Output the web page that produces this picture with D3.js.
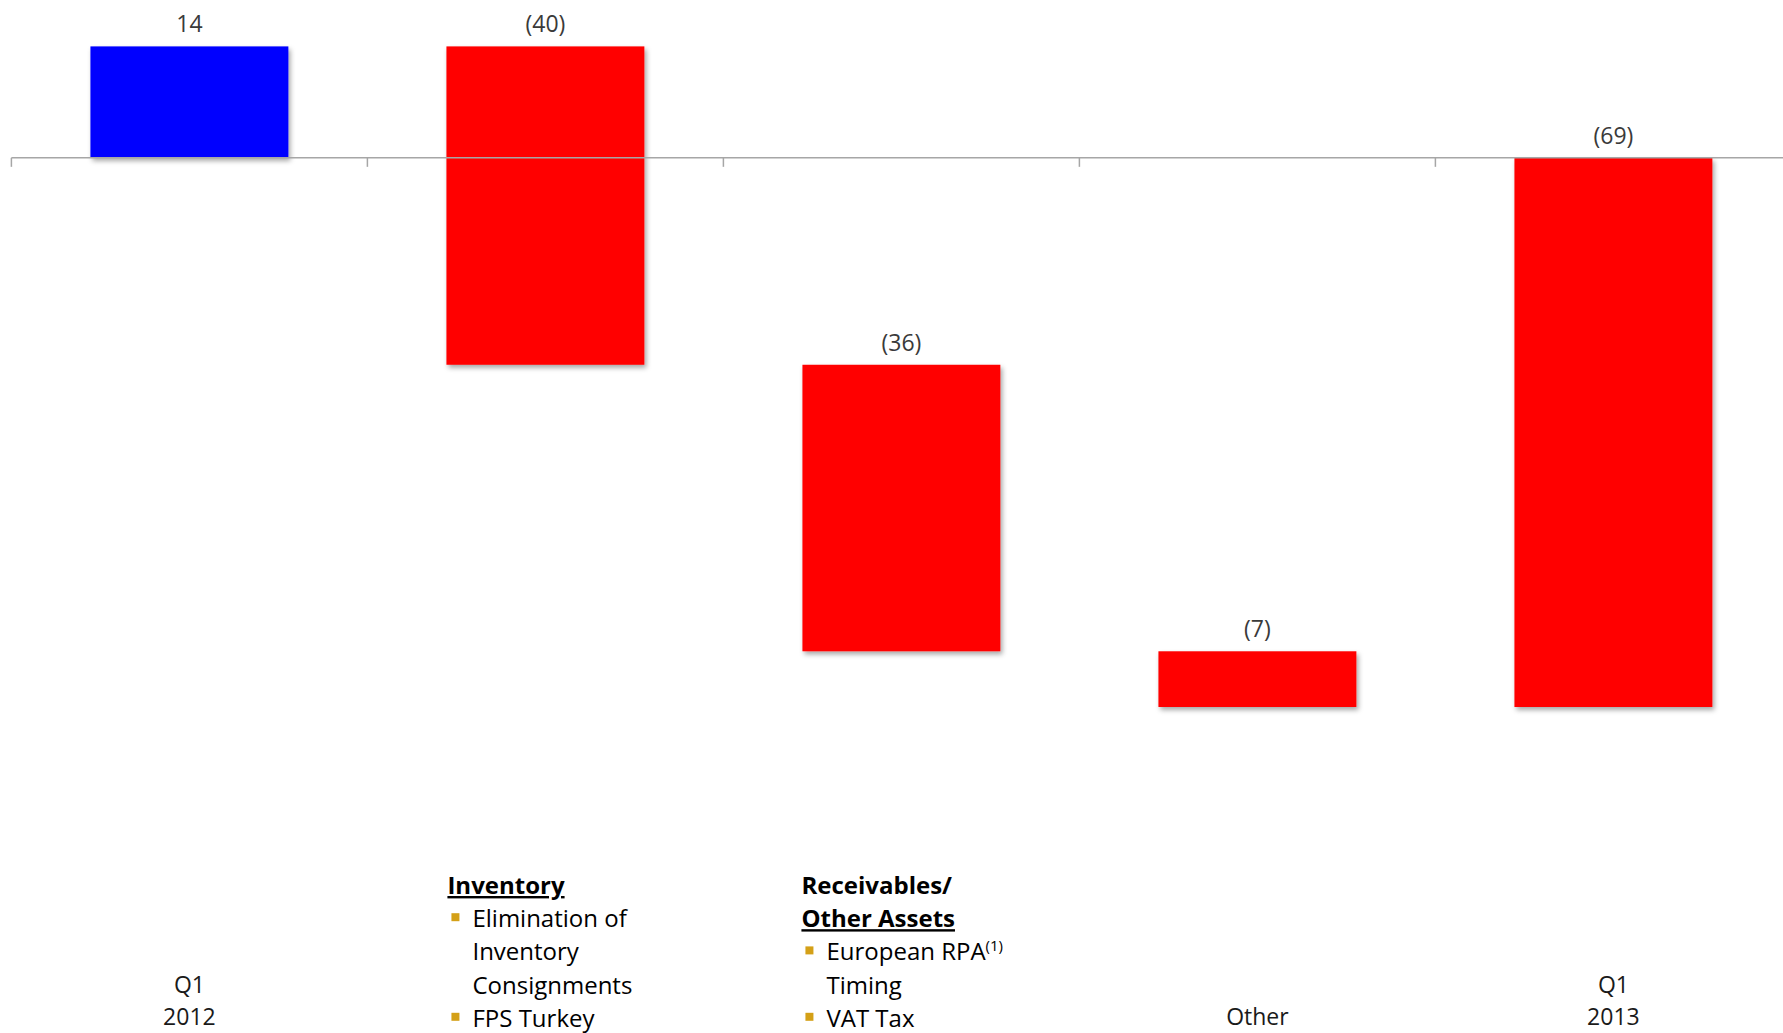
<!DOCTYPE html>
<html>
<head>
<meta charset="utf-8">
<script src="https://cdn.jsdelivr.net/npm/d3@7"></script>
<style>
  html, body { margin: 0; padding: 0; background: #fff; }
  svg { display: block; }
  text { font-family: "Open Sans", "Noto Sans", sans-serif; }
</style>
</head>
<body>
<svg id="chart" width="1783" height="1033"></svg>
<script>
// ---- data ----
const categories = ["Q1 2012", "Inventory", "Receivables", "Other", "Q1 2013"];
const changes    = [14, -40, -36, -7, -69];
const isTotal    = [true, false, false, false, true];
const valueLabels = ["14", "(40)", "(36)", "(7)", "(69)"];
const categoryLabels = [["Q1", "2012"], [], [], ["Other"], ["Q1", "2013"]];
const inventoryNotes = [
  {text: "Inventory", bold: true, underline: true, bullet: false},
  {text: "Elimination of", bullet: true},
  {text: "Inventory", bullet: false, indent: true},
  {text: "Consignments", bullet: false, indent: true},
  {text: "FPS Turkey", bullet: true}
];
const receivableNotes = [
  {text: "Receivables/", bold: true, underline: false, bullet: false},
  {text: "Other Assets", bold: true, underline: true, bullet: false},
  {text: "European RPA", sup: "(1)", bullet: true},
  {text: "Timing", bullet: false, indent: true},
  {text: "VAT Tax", bullet: true}
];
const colors = {positive: "#0000ff", negative: "#ff0000"};

// ---- waterfall computation ----
let running = 0;
const bars = categories.map((c, i) => {
  let start, end;
  if (isTotal[i]) { start = 0; end = changes[i]; running = changes[i]; }
  else { start = running; end = running + changes[i]; running = end; }
  return {cat: c, start, end, value: changes[i], label: valueLabels[i]};
});

const svg = d3.select("#chart");
const x = d3.scaleBand().domain(categories).range([11.4, 1791.4])
  .paddingInner(0.444).paddingOuter(0.222);
const y = d3.scaleLinear().domain([-69, 14]).range([707, 46.4]);

// shadow filter
const defs = svg.append("defs");
const f = defs.append("filter").attr("id", "shadow")
  .attr("x", "-10%").attr("y", "-10%").attr("width", "125%").attr("height", "130%");
f.append("feDropShadow").attr("dx", 2).attr("dy", 3).attr("stdDeviation", 2.5)
  .attr("flood-color", "#000").attr("flood-opacity", 0.35);

// bars
svg.append("g").selectAll("rect").data(bars).join("rect")
  .attr("x", d => x(d.cat))
  .attr("width", x.bandwidth())
  .attr("y", d => y(Math.max(d.start, d.end)))
  .attr("height", d => Math.abs(y(d.start) - y(d.end)))
  .attr("fill", d => d.value >= 0 ? colors.positive : colors.negative)
  .attr("filter", "url(#shadow)");

// axis at zero
const step = x.step();
const tickPos = d3.range(0, categories.length + 1).map(i => x.range()[0] + i * step);
const axisG = svg.append("g").attr("class", "axis");
axisG.append("line")
  .attr("x1", x.range()[0]).attr("x2", 1783)
  .attr("y1", y(0)).attr("y2", y(0))
  .attr("stroke", "#a6a6a6").attr("stroke-width", 1.5);
axisG.selectAll("line.tick").data(tickPos).join("line").attr("class", "tick")
  .attr("x1", d => d).attr("x2", d => d)
  .attr("y1", y(0)).attr("y2", y(0) + 9)
  .attr("stroke", "#a6a6a6").attr("stroke-width", 1.5);

// value labels
svg.append("g").selectAll("text").data(bars).join("text")
  .attr("x", d => x(d.cat) + x.bandwidth() / 2)
  .attr("y", d => y(Math.max(d.start, d.end)) - 14)
  .attr("text-anchor", "middle")
  .attr("font-size", 23)
  .attr("fill", "#3a3a3a")
  .text(d => d.label);

// category labels at bottom
const catG = svg.append("g");
categories.forEach((c, i) => {
  const lines = categoryLabels[i];
  const cx = x(c) + x.bandwidth() / 2;
  const n = lines.length;
  lines.forEach((t, j) => {
    catG.append("text")
      .attr("x", cx)
      .attr("y", 1025 - (n - 1 - j) * 32)
      .attr("text-anchor", "middle")
      .attr("font-size", 23)
      .attr("fill", "#1a1a1a")
      .text(t);
  });
});

// annotation blocks
function notes(list, x0, y0) {
  const g = svg.append("g");
  const lh = 33.2;
  list.forEach((d, j) => {
    const yy = y0 + j * lh;
    const tx = (d.bullet || d.indent) ? x0 + 25 : x0;
    if (d.bullet) {
      g.append("rect").attr("x", x0 + 4).attr("y", yy - 14).attr("width", 8).attr("height", 8)
        .attr("fill", "#d4a017");
    }
    const t = g.append("text")
      .attr("x", tx).attr("y", yy)
      .attr("font-size", 24)
      .attr("font-weight", d.bold ? 700 : 400)
      .attr("fill", "#000")
      .attr("text-decoration", d.underline ? "underline" : null)
      .text(d.text);
    if (d.sup) {
      t.append("tspan").attr("dy", -9).attr("font-size", 15).text(d.sup);
    }
  });
}
notes(inventoryNotes, x(categories[1]) + 1, 894);
notes(receivableNotes, x(categories[2]) - 1, 894);
</script>
</body>
</html>
